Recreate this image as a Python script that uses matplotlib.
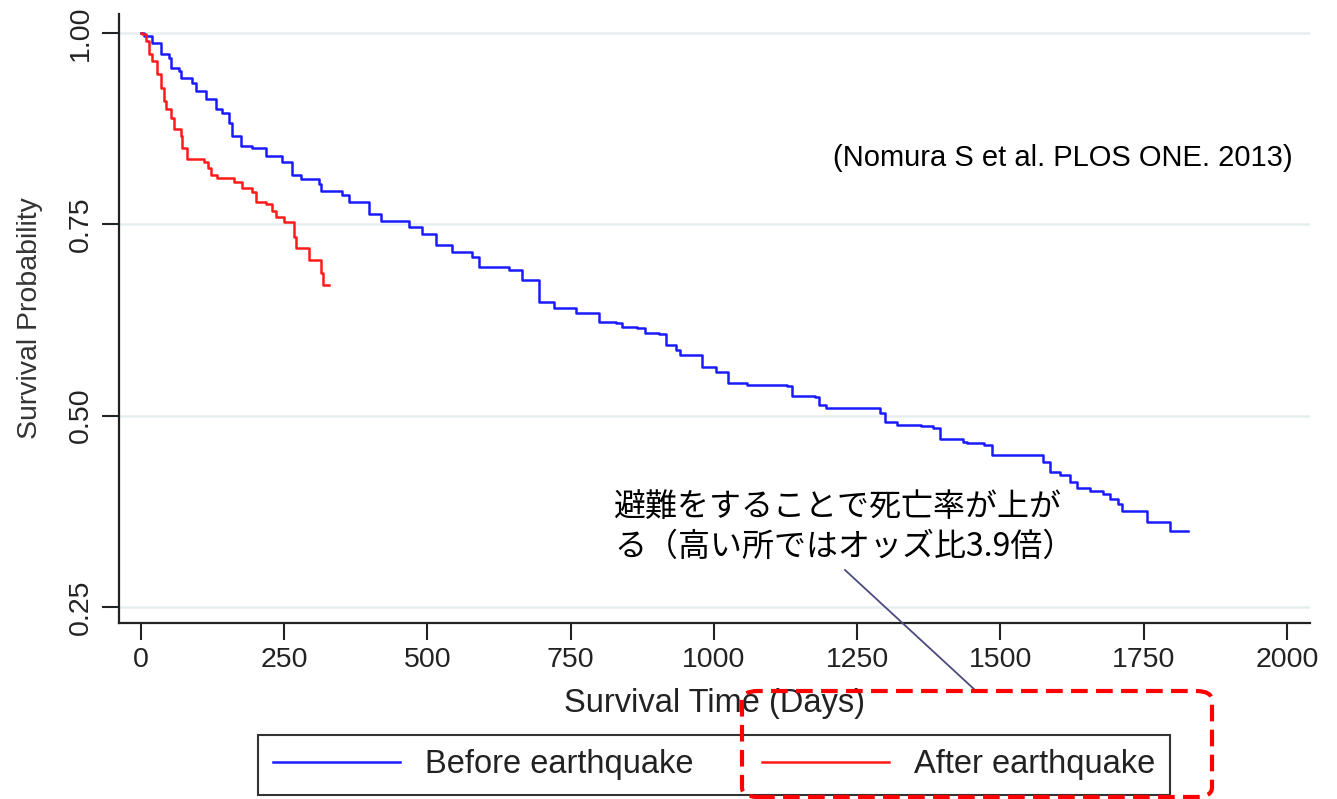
import matplotlib
matplotlib.use("Agg")
import matplotlib.pyplot as plt
from matplotlib.patches import FancyBboxPatch
from matplotlib.lines import Line2D

plt.rcParams['font.family'] = ['Liberation Sans', 'DejaVu Sans']

# Kaplan-Meier step points (days, survival)
before_t = [0, 5, 19, 35, 49, 52, 66, 70, 89, 96, 114, 131, 141, 154, 159, 175, 194, 218,
            246, 264, 279, 311, 314, 351, 363, 398, 419, 445, 468, 491, 515, 543, 578, 590,
            643, 665, 695, 721, 760, 800, 830, 840, 866, 879, 905, 917, 934, 940, 980, 1004,
            1024, 1057, 1127, 1137, 1176, 1184, 1196, 1289, 1298, 1319, 1362, 1382, 1394,
            1434, 1441, 1472, 1486, 1574, 1586, 1603, 1621, 1633, 1656, 1679, 1691, 1705,
            1712, 1755, 1796, 1827]
before_s = [1.0, 0.996, 0.987, 0.973, 0.967, 0.954, 0.951, 0.941, 0.935, 0.924, 0.914, 0.901,
            0.895, 0.882, 0.866, 0.852, 0.850, 0.840, 0.831, 0.814, 0.809, 0.803, 0.793, 0.788,
            0.779, 0.764, 0.755, 0.754, 0.746, 0.738, 0.723, 0.714, 0.707, 0.694, 0.691, 0.677,
            0.649, 0.641, 0.634, 0.622, 0.621, 0.616, 0.615, 0.608, 0.607, 0.592, 0.586, 0.579,
            0.564, 0.557, 0.543, 0.540, 0.539, 0.526, 0.525, 0.514, 0.510, 0.504, 0.492, 0.488,
            0.487, 0.484, 0.469, 0.466, 0.464, 0.462, 0.449, 0.440, 0.426, 0.422, 0.413, 0.405,
            0.401, 0.397, 0.391, 0.384, 0.376, 0.361, 0.349, 0.349]

after_t = [0, 2, 9, 14, 19, 28, 35, 40, 44, 52, 58, 70, 72, 80, 110, 117, 122, 133, 162,
           176, 194, 201, 218, 229, 236, 250, 267, 271, 293, 314, 318, 328]
after_s = [1.0, 0.999, 0.990, 0.973, 0.964, 0.947, 0.928, 0.911, 0.901, 0.889, 0.875, 0.866,
           0.850, 0.836, 0.832, 0.824, 0.814, 0.810, 0.805, 0.797, 0.792, 0.779, 0.776, 0.768,
           0.759, 0.753, 0.734, 0.719, 0.703, 0.686, 0.671, 0.671]

xticks = [0, 250, 500, 750, 1000, 1250, 1500, 1750, 2000]
yticks = [0.25, 0.50, 0.75, 1.00]

fig = plt.figure(figsize=(13.37, 7.99), dpi=100)
ax = fig.add_axes([0.089, 0.2203, 0.8908, 0.7622])

ax.plot(before_t, before_s, drawstyle='steps-post', color='#1a1aff', lw=1.8,
        label='Before earthquake')
ax.plot(after_t, after_s, drawstyle='steps-post', color='#ff1a1a', lw=1.8,
        label='After earthquake')

ax.set_xlim(-38, 2040)
ax.set_ylim(0.229, 1.025)
ax.set_xticks(xticks)
ax.set_yticks(yticks)
ax.set_yticklabels(['%.2f' % v for v in yticks], rotation=90, va='center')
ax.tick_params(axis='both', labelsize=20.5, length=12, width=1.5, color='#222222',
               labelcolor='#222222')
ax.tick_params(axis='y', pad=6)
ax.tick_params(axis='x', pad=5)
ax.grid(axis='y', color='#e6eff0', lw=1.8)
ax.set_axisbelow(True)
for s in ['top', 'right']:
    ax.spines[s].set_visible(False)
for s in ['left', 'bottom']:
    ax.spines[s].set_linewidth(1.6)
    ax.spines[s].set_color('#222222')

ax.set_xlabel('Survival Time (Days)', fontsize=23.5, color='#222222', labelpad=11)
ax.set_ylabel('Survival Probability', fontsize=20.5, color='#333333', labelpad=18)

ax.text(0.985, 0.763, '(Nomura S et al. PLOS ONE. 2013)', transform=ax.transAxes,
        ha='right', va='center', fontsize=21, color='black')

fig.text(614 / 1337, 1 - 527 / 799,
         '避難をすることで死亡率が上が\nる（高い所ではオッズ比3.9倍）',
         ha='left', va='center', fontsize=23, linespacing=1.3,
         family=['Noto Sans CJK JP', 'DejaVu Sans'], color='black')

# pointer line and dashed box around the "after" legend entry
fig.add_artist(Line2D([845 / 1337, 975 / 1337], [1 - 570 / 799, 1 - 690 / 799],
                      color='#4a4a80', lw=1.3))
box = FancyBboxPatch((742 / 1337, 1 - 797 / 799), 470 / 1337, 106 / 799,
                     boxstyle='round,pad=0,rounding_size=0.012',
                     transform=fig.transFigure, fill=False, edgecolor='#ff0000',
                     lw=3, linestyle=(0, (4, 2)), zorder=10)
fig.add_artist(box)

leg = fig.legend(loc='center', bbox_to_anchor=(714 / 1337, 1 - 765 / 799), ncol=2,
                 fontsize=23.5, frameon=True, fancybox=False, edgecolor='#333333',
                 handlelength=3.9, handletextpad=0.75, columnspacing=2.1,
                 borderpad=0.45, framealpha=1)
leg.get_frame().set_linewidth(1.5)
for t in leg.get_texts():
    t.set_color('#222222')

fig.savefig('out.png', dpi=100)
